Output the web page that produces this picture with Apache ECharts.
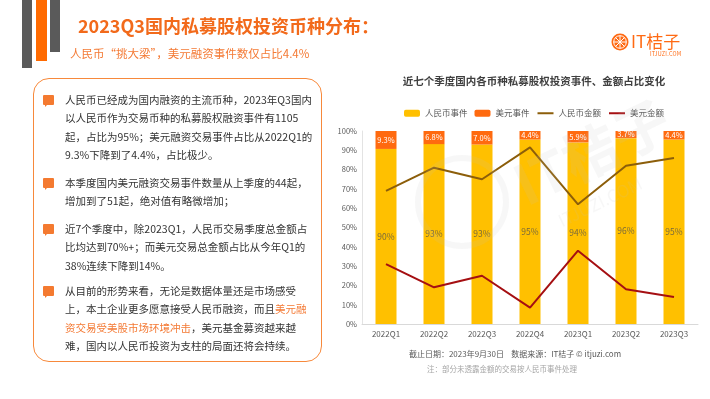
<!DOCTYPE html>
<html>
<head>
<meta charset="utf-8">
<script src="https://cdn.jsdelivr.net/npm/echarts@6/dist/echarts.min.js"></script>
<style>
  html, body { margin: 0; padding: 0; background: #fff; }
  body { width: 710px; height: 399px; position: relative; overflow: hidden;
         font-family: "Noto Sans CJK SC", "Noto Sans", sans-serif; }
  #chart { position: absolute; left: 0; top: 0; width: 710px; height: 399px; }
  .deco { position: absolute; top: 0; }
  .title { position: absolute; left: 78px; top: 12px; font-size: 18px; line-height: 26px;
           font-weight: bold; color: #f26a1b; white-space: nowrap; }
  .subtitle { position: absolute; left: 70px; top: 45px; font-size: 11.5px; line-height: 16px;
              color: #f47a35; white-space: nowrap; }
  .box { position: absolute; left: 33px; top: 78px; width: 287px; height: 282px;
         border: 1.5px solid #f7893b; border-radius: 16px; }
  .para { position: absolute; left: 65px; font-size: 10.5px; line-height: 18.4px;
          color: #333; white-space: nowrap; }
  .para .hl { color: #f47a35; }
  .bullet { position: absolute; left: 43px; width: 11px; height: 10px; background: #f47a30; border-radius: 1px; }
  .bullet::after { content: ""; position: absolute; left: 2px; top: 9px; border-left: 3px solid #f47a30;
                   border-bottom: 3px solid transparent; }
  .logo { position: absolute; left: 611px; top: 33px; }
  .logo-text { position: absolute; left: 631px; top: 30px; font-size: 17px; line-height: 22px;
               color: #ff6a13; white-space: nowrap; }
  .logo-sub { position: absolute; left: 650px; top: 51px; font-size: 5.5px; line-height: 6px;
              color: #ff6a13; white-space: nowrap; letter-spacing: 0.2px; }
</style>
</head>
<body>
<div id="chart"></div>

<div class="deco" style="left:22px;width:10px;height:68px;background:#5a5a5a"></div>
<div class="deco" style="left:36px;width:11px;height:61px;background:#ff6a00"></div>
<div class="deco" style="left:50px;width:10px;height:52px;background:#5a5a5a"></div>
<div class="title">2023Q3国内私募股权投资币种分布：</div>
<div class="subtitle">人民币“挑大梁”，美元融资事件数仅占比4.4%</div>

<svg class="logo" width="18" height="18" viewBox="0 0 18 18">
  <circle cx="9" cy="9" r="8.5" fill="#ff6a13"/>
  <circle cx="9" cy="9" r="6.3" fill="none" stroke="#fff" stroke-width="1"/>
  <g stroke="#fff" stroke-width="1">
    <line x1="9" y1="2.7" x2="9" y2="15.3"/>
    <line x1="2.7" y1="9" x2="15.3" y2="9"/>
    <line x1="4.5" y1="4.5" x2="13.5" y2="13.5"/>
    <line x1="13.5" y1="4.5" x2="4.5" y2="13.5"/>
  </g>
</svg>
<div class="logo-text">IT桔子</div>
<div class="logo-sub">ITJUZI.COM</div>

<div class="box"></div>
<div class="bullet" style="top:95px"></div>
<div class="para" style="top:91px">人民币已经成为国内融资的主流币种，2023年Q3国内<br>以人民币作为交易币种的私募股权融资事件有1105<br>起，占比为95%；美元融资交易事件占比从2022Q1的<br>9.3%下降到了4.4%，占比极少。</div>
<div class="bullet" style="top:178px"></div>
<div class="para" style="top:174px">本季度国内美元融资交易事件数量从上季度的44起，<br>增加到了51起，绝对值有略微增加；</div>
<div class="bullet" style="top:224px"></div>
<div class="para" style="top:220px">近7个季度中，除2023Q1，人民币交易季度总金额占<br>比均达到70%+；而美元交易总金额占比从今年Q1的<br>38%连续下降到14%。</div>
<div class="bullet" style="top:286px"></div>
<div class="para" style="top:282px">从目前的形势来看，无论是数据体量还是市场感受<br>上，本土企业更多愿意接受人民币融资，而且<span class="hl">美元融<br>资交易受美股市场环境冲击</span>，美元基金募资越来越<br>难，国内以人民币投资为支柱的局面还将会持续。</div>

<script>
const quarters = ['2022Q1', '2022Q2', '2022Q3', '2022Q4', '2023Q1', '2023Q2', '2023Q3']
const rmbEventShare = [90.7, 93.2, 93.0, 95.6, 94.1, 96.3, 95.6]
const usdEventShare = [9.3, 6.8, 7.0, 4.4, 5.9, 3.7, 4.4]
const rmbAmountShare = [69, 81, 75, 91.5, 62, 82, 86]
const usdAmountShare = [31, 19, 25, 8.5, 38, 18, 14]
const seriesNames = ['人民币事件', '美元事件', '人民币金额', '美元金额']

const chart = echarts.init(document.getElementById('chart'))

const font = '"Noto Sans CJK SC", sans-serif'
const watermark = 'rgba(190,190,190,0.13)'

const option = {
  animation: false,
  textStyle: { fontFamily: font },
  grid: { left: 362, right: 12, top: 131, bottom: 75 },
  legend: {
    data: [
      { name: seriesNames[0] },
      { name: seriesNames[1] },
      { name: seriesNames[2], itemStyle: { opacity: 0 } },
      { name: seriesNames[3], itemStyle: { opacity: 0 } }
    ],
    left: 399,
    top: 104,
    itemWidth: 16,
    itemHeight: 7,
    itemGap: 7,
    textStyle: { fontSize: 8.5, color: '#595959', fontFamily: font }
  },
  graphic: [
    {
      type: 'text', x: 534, y: 81,
      style: {
        text: '近七个季度国内各币种私募股权投资事件、金额占比变化',
        fontSize: 10.5, fontWeight: 'bold', fill: '#404040', fontFamily: font,
        align: 'center', verticalAlign: 'middle'
      }
    },
    {
      type: 'text', x: 515, y: 354,
      style: {
        text: '截止日期：2023年9月30日    数据来源：IT桔子 © itjuzi.com',
        fontSize: 8, fill: '#595959', fontFamily: font,
        align: 'center', verticalAlign: 'middle'
      }
    },
    {
      type: 'text', x: 502, y: 369,
      style: {
        text: '注：部分未透露金额的交易按人民币事件处理',
        fontSize: 7.5, fill: '#a6a6a6', fontFamily: font,
        align: 'center', verticalAlign: 'middle'
      }
    },
    // faint watermark over the plot
    {
      type: 'circle', z: 100, silent: true,
      shape: { cx: 462, cy: 202, r: 44 },
      style: { fill: 'none', stroke: watermark, lineWidth: 6 }
    },
    {
      type: 'text', x: 592, y: 152, rotation: Math.PI / 7, z: 100, silent: true,
      style: {
        text: 'IT桔子', fontSize: 56, fontWeight: 'bold', fill: watermark, fontFamily: font,
        align: 'center', verticalAlign: 'middle'
      }
    },
    {
      type: 'text', x: 600, y: 202, rotation: Math.PI / 7, z: 100, silent: true,
      style: {
        text: 'ITJUZI.COM', fontSize: 17, fill: watermark, fontFamily: font,
        align: 'center', verticalAlign: 'middle'
      }
    }
  ],
  xAxis: {
    type: 'category',
    data: quarters,
    axisLine: { lineStyle: { color: '#d9d9d9' } },
    axisTick: { show: false },
    axisLabel: { fontSize: 8, color: '#595959', margin: 6 }
  },
  yAxis: {
    type: 'value',
    min: 0,
    max: 100,
    interval: 10,
    axisLine: { show: true, lineStyle: { color: '#e3e3e3' } },
    axisTick: { show: false },
    splitLine: { show: false },
    axisLabel: { fontSize: 7.5, color: '#595959', margin: 5, formatter: '{value}%' }
  },
  series: [
    {
      name: seriesNames[0],
      type: 'bar',
      stack: 'event',
      barWidth: 21,
      data: rmbEventShare,
      itemStyle: { color: '#ffc000' },
      label: {
        show: true,
        position: 'inside',
        fontSize: 8.5,
        color: '#7a6a3a',
        formatter: (p) => Math.floor(p.value) + '%'
      }
    },
    {
      name: seriesNames[1],
      type: 'bar',
      stack: 'event',
      barWidth: 21,
      data: usdEventShare,
      itemStyle: { color: '#ff6a0f' },
      label: {
        show: true,
        position: 'inside',
        fontSize: 7.5,
        color: '#fff',
        formatter: (p) => p.value.toFixed(1) + '%'
      }
    },
    {
      name: seriesNames[2],
      type: 'line',
      data: rmbAmountShare,
      symbol: 'none',
      lineStyle: { width: 2, color: '#8c5e0a' },
      itemStyle: { color: '#8c5e0a' },
      z: 5
    },
    {
      name: seriesNames[3],
      type: 'line',
      data: usdAmountShare,
      symbol: 'none',
      lineStyle: { width: 2, color: '#a50f12' },
      itemStyle: { color: '#a50f12' },
      z: 5
    }
  ]
}

chart.setOption(option)
</script>
</body>
</html>
